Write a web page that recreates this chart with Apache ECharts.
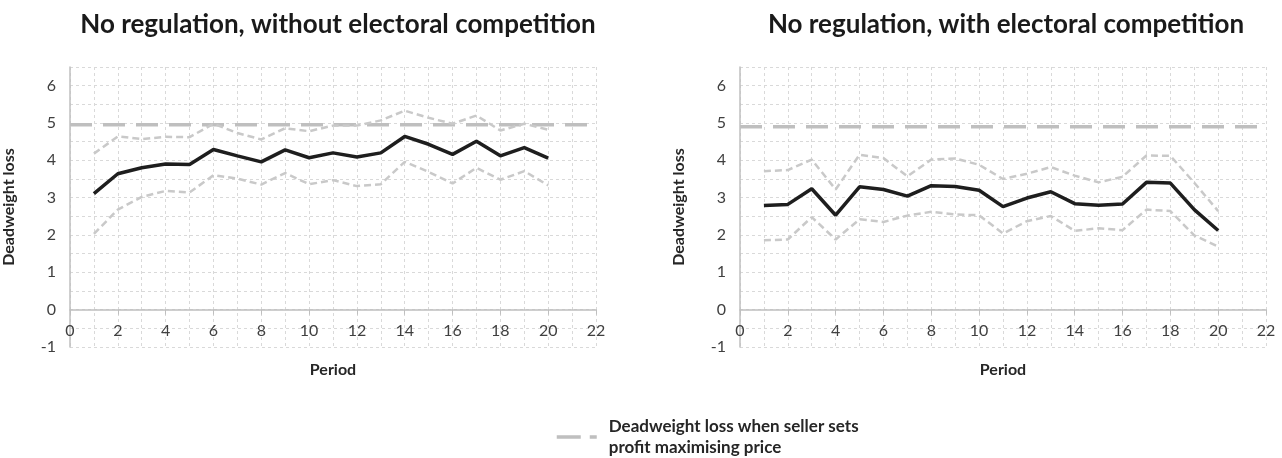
<!DOCTYPE html>
<html>
<head>
<meta charset="utf-8">
<script src="https://cdn.jsdelivr.net/npm/echarts@6/dist/echarts.min.js"></script>
<style>
html,body{margin:0;padding:0;background:#fff;}
#c{width:1282px;height:458px;}
</style>
</head>
<body>
<div id="c"></div>
<script>
var periods = [1,2,3,4,5,6,7,8,9,10,11,12,13,14,15,16,17,18,19,20];
var xRange = [0, 22];
var yRange = [-1, 6.5];

var leftMean  = [3.11,3.64,3.80,3.90,3.89,4.29,4.12,3.96,4.28,4.07,4.20,4.09,4.20,4.64,4.43,4.16,4.51,4.12,4.34,4.06];
var leftUpper = [4.18,4.64,4.57,4.63,4.62,4.98,4.73,4.56,4.86,4.78,4.93,4.93,5.07,5.33,5.14,4.98,5.20,4.80,4.98,4.82];
var leftLower = [2.03,2.68,3.02,3.18,3.14,3.60,3.51,3.35,3.66,3.36,3.47,3.31,3.36,3.96,3.69,3.38,3.80,3.48,3.71,3.33];
var leftRef = 4.95;

var rightMean  = [2.79,2.82,3.24,2.53,3.29,3.22,3.04,3.32,3.30,3.20,2.76,2.99,3.16,2.84,2.80,2.83,3.41,3.39,2.68,2.12];
var rightUpper = [3.71,3.74,4.02,3.22,4.15,4.06,3.57,4.02,4.05,3.88,3.50,3.64,3.82,3.59,3.41,3.56,4.13,4.12,3.40,2.64];
var rightLower = [1.86,1.88,2.48,1.88,2.42,2.35,2.52,2.62,2.55,2.53,2.04,2.37,2.51,2.11,2.18,2.13,2.68,2.64,1.99,1.69];
var rightRef = 4.9;

var titles = ['No regulation, without electoral competition', 'No regulation, with electoral competition'];
var yName = 'Deadweight loss';
var xName = 'Period';
var refName = 'Deadweight loss when seller sets profit maximising price';
var refLabel = 'Deadweight loss when seller sets\nprofit maximising price';

var FONT = 'Lato, "Open Sans", sans-serif';
var gridCol = '#d9d9d9';
var axisCol = '#bfbfbf';
var refCol = '#bfbfbf';
var bandCol = '#c9c9c9';
var meanCol = '#1e1e1e';
var GRID_H = 280;
// distance of the y=0 line above the grid bottom
var zeroOffset = -GRID_H * (0 - yRange[0]) / (yRange[1] - yRange[0]);

function pairs(xs, ys){ return xs.map(function(x,i){ return [x, ys[i]]; }); }
function refLine(v){ return [[xRange[0], v],[xRange[1], v]]; }

function xAxisFor(gi){
  return {
    type:'value', gridIndex:gi, min:xRange[0], max:xRange[1], interval:2,
    position:'bottom', offset:zeroOffset,
    name:xName, nameLocation:'middle', nameGap:52, nameMoveOverlap:false,
    nameTextStyle:{fontFamily:FONT, fontWeight:'bold', fontSize:16, color:'#262626'},
    axisLine:{onZero:false, lineStyle:{color:axisCol, width:1.5}},
    axisTick:{show:true, length:5, lineStyle:{color:axisCol}},
    axisLabel:{fontFamily:FONT, fontSize:16, color:'#404040', margin:13},
    splitLine:{show:true, lineStyle:{color:gridCol, type:[3,3], width:1}},
    minorTick:{show:false, splitNumber:2},
    minorSplitLine:{show:true, lineStyle:{color:gridCol, type:[3,3], width:1}}
  };
}
function yAxisFor(gi){
  return {
    type:'value', gridIndex:gi, min:yRange[0], max:yRange[1], interval:0.5,
    name:yName, nameLocation:'middle', nameGap:53, nameRotate:90, nameMoveOverlap:false,
    nameTextStyle:{fontFamily:FONT, fontWeight:'bold', fontSize:16, color:'#262626'},
    axisLine:{show:true, onZero:false, lineStyle:{color:axisCol, width:1.5}},
    axisTick:{show:false},
    axisLabel:{fontFamily:FONT, fontSize:16, color:'#404040', margin:14,
      formatter:function(v){ return (Math.abs(v - Math.round(v)) < 1e-9) ? String(Math.round(v)) : ''; }},
    splitLine:{show:true, lineStyle:{color:gridCol, type:[3,3], width:1}}
  };
}
function seriesFor(gi, mean, upper, lower, ref){
  var base = {type:'line', xAxisIndex:gi, yAxisIndex:gi, symbol:'none', silent:true, animation:false};
  return [
    Object.assign({}, base, {name:refName, data:refLine(ref), z:2, color:refCol,
      lineStyle:{color:refCol, width:3.5, type:[22,11]}}),
    Object.assign({}, base, {name:'upper'+gi, data:pairs(periods, upper), z:3, color:bandCol,
      lineStyle:{color:bandCol, width:2.5, type:[7,4]}}),
    Object.assign({}, base, {name:'lower'+gi, data:pairs(periods, lower), z:3, color:bandCol,
      lineStyle:{color:bandCol, width:2.5, type:[7,4]}}),
    Object.assign({}, base, {name:'mean'+gi, data:pairs(periods, mean), z:4, color:meanCol,
      lineStyle:{color:meanCol, width:3.5}})
  ];
}

var chart = echarts.init(document.getElementById('c'), null, {renderer:'canvas'});
chart.setOption({
  animation:false,
  backgroundColor:'#fff',
  title:[
    {text:titles[0], left:333, top:7, textAlign:'center', textStyle:{fontFamily:FONT, fontWeight:'bold', fontSize:26, color:'#1a1a1a'}},
    {text:titles[1], left:1001, top:7, textAlign:'center', textStyle:{fontFamily:FONT, fontWeight:'bold', fontSize:26, color:'#1a1a1a'}}
  ],
  legend:{
    data:[refName], left:550, top:411, itemWidth:40, itemHeight:14,
    selectedMode:false,
    itemStyle:{opacity:0},
    lineStyle:{color:refCol, width:3.5, type:[24,9]},
    formatter:function(){ return refLabel; },
    textStyle:{fontFamily:FONT, fontWeight:'bold', fontSize:17, color:'#262626', lineHeight:21, padding:[0,0,0,7]}
  },
  grid:[
    {left:70, top:67, width:526, height:GRID_H},
    {left:740, top:67, width:526, height:GRID_H}
  ],
  xAxis:[xAxisFor(0), xAxisFor(1)],
  yAxis:[yAxisFor(0), yAxisFor(1)],
  series: seriesFor(0, leftMean, leftUpper, leftLower, leftRef)
    .concat(seriesFor(1, rightMean, rightUpper, rightLower, rightRef))
});
</script>
</body>
</html>
